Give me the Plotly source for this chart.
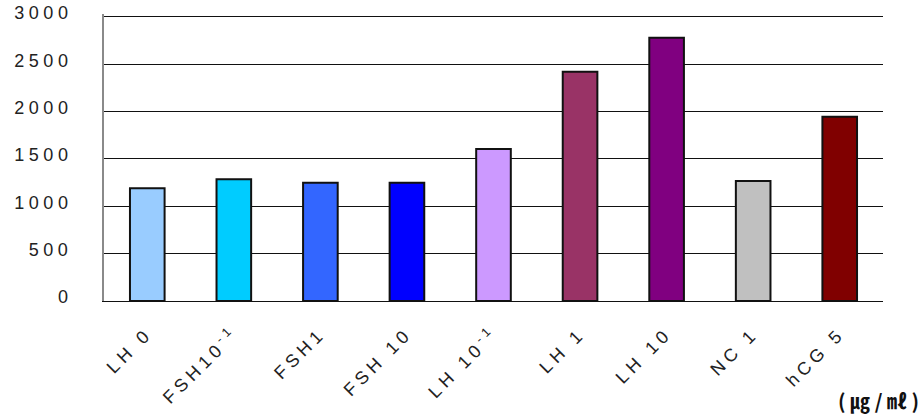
import plotly.graph_objects as go

# Response per treatment group
categories = ["LH 0", "FSH10<sup>-1</sup>", "FSH1", "FSH 10", "LH 10<sup>-1</sup>",
              "LH 1", "LH 10", "NC 1", "hCG 5"]
values = [1190, 1285, 1250, 1250, 1605, 2420, 2780, 1268, 1945]
bar_colors = ["#99CCFF", "#00CCFF", "#3366FF", "#0000FF", "#CC99FF",
              "#993366", "#800080", "#C0C0C0", "#800000"]
y_ticks = [0, 500, 1000, 1500, 2000, 2500, 3000]
unit_label = "( ㎍ / ㎖ )"

fig = go.Figure(
    go.Bar(
        x=categories,
        y=values,
        marker=dict(color=bar_colors, line=dict(color="#111111", width=2)),
        hoverinfo="skip",
    )
)

fig.update_layout(
    width=922,
    height=414,
    margin=dict(l=104, r=39, t=14, b=113),
    paper_bgcolor="white",
    plot_bgcolor="white",
    bargap=0.6,
    showlegend=False,
    font=dict(family="Liberation Sans, Arial, sans-serif", size=18, color="#222222"),
)

fig.update_yaxes(
    range=[0, 3031],
    tickvals=y_ticks,
    automargin=False,
    showgrid=True,
    gridcolor="#111111",
    gridwidth=1,
    zeroline=False,
    showline=True,
    linecolor="#8a8a8a",
    linewidth=2,
    ticks="",
    ticklabelstandoff=26,
    ticklabelshift=-4,
    tickfont=dict(size=18),
)

fig.update_xaxes(
    automargin=False,
    showline=True,
    linecolor="#111111",
    linewidth=1,
    ticks="",
    tickangle=-45,
    ticklabelstandoff=14,
    tickfont=dict(size=18),
)

fig.add_annotation(
    text="<b>" + unit_label + "</b>",
    xref="paper", yref="paper",
    x=1.049, y=-0.345,
    xanchor="right", yanchor="middle",
    showarrow=False,
    font=dict(family="Noto Sans CJK KR", size=20, color="#111111"),
)

# widen the spacing of the axis tick labels
spacing_css = """
var s = document.createElement('style');
s.textContent = '.xtick text { letter-spacing: 4.5px; } .ytick text { letter-spacing: 4.5px; }';
document.head.appendChild(s);
"""

fig.write_html("out.html", post_script=spacing_css)
